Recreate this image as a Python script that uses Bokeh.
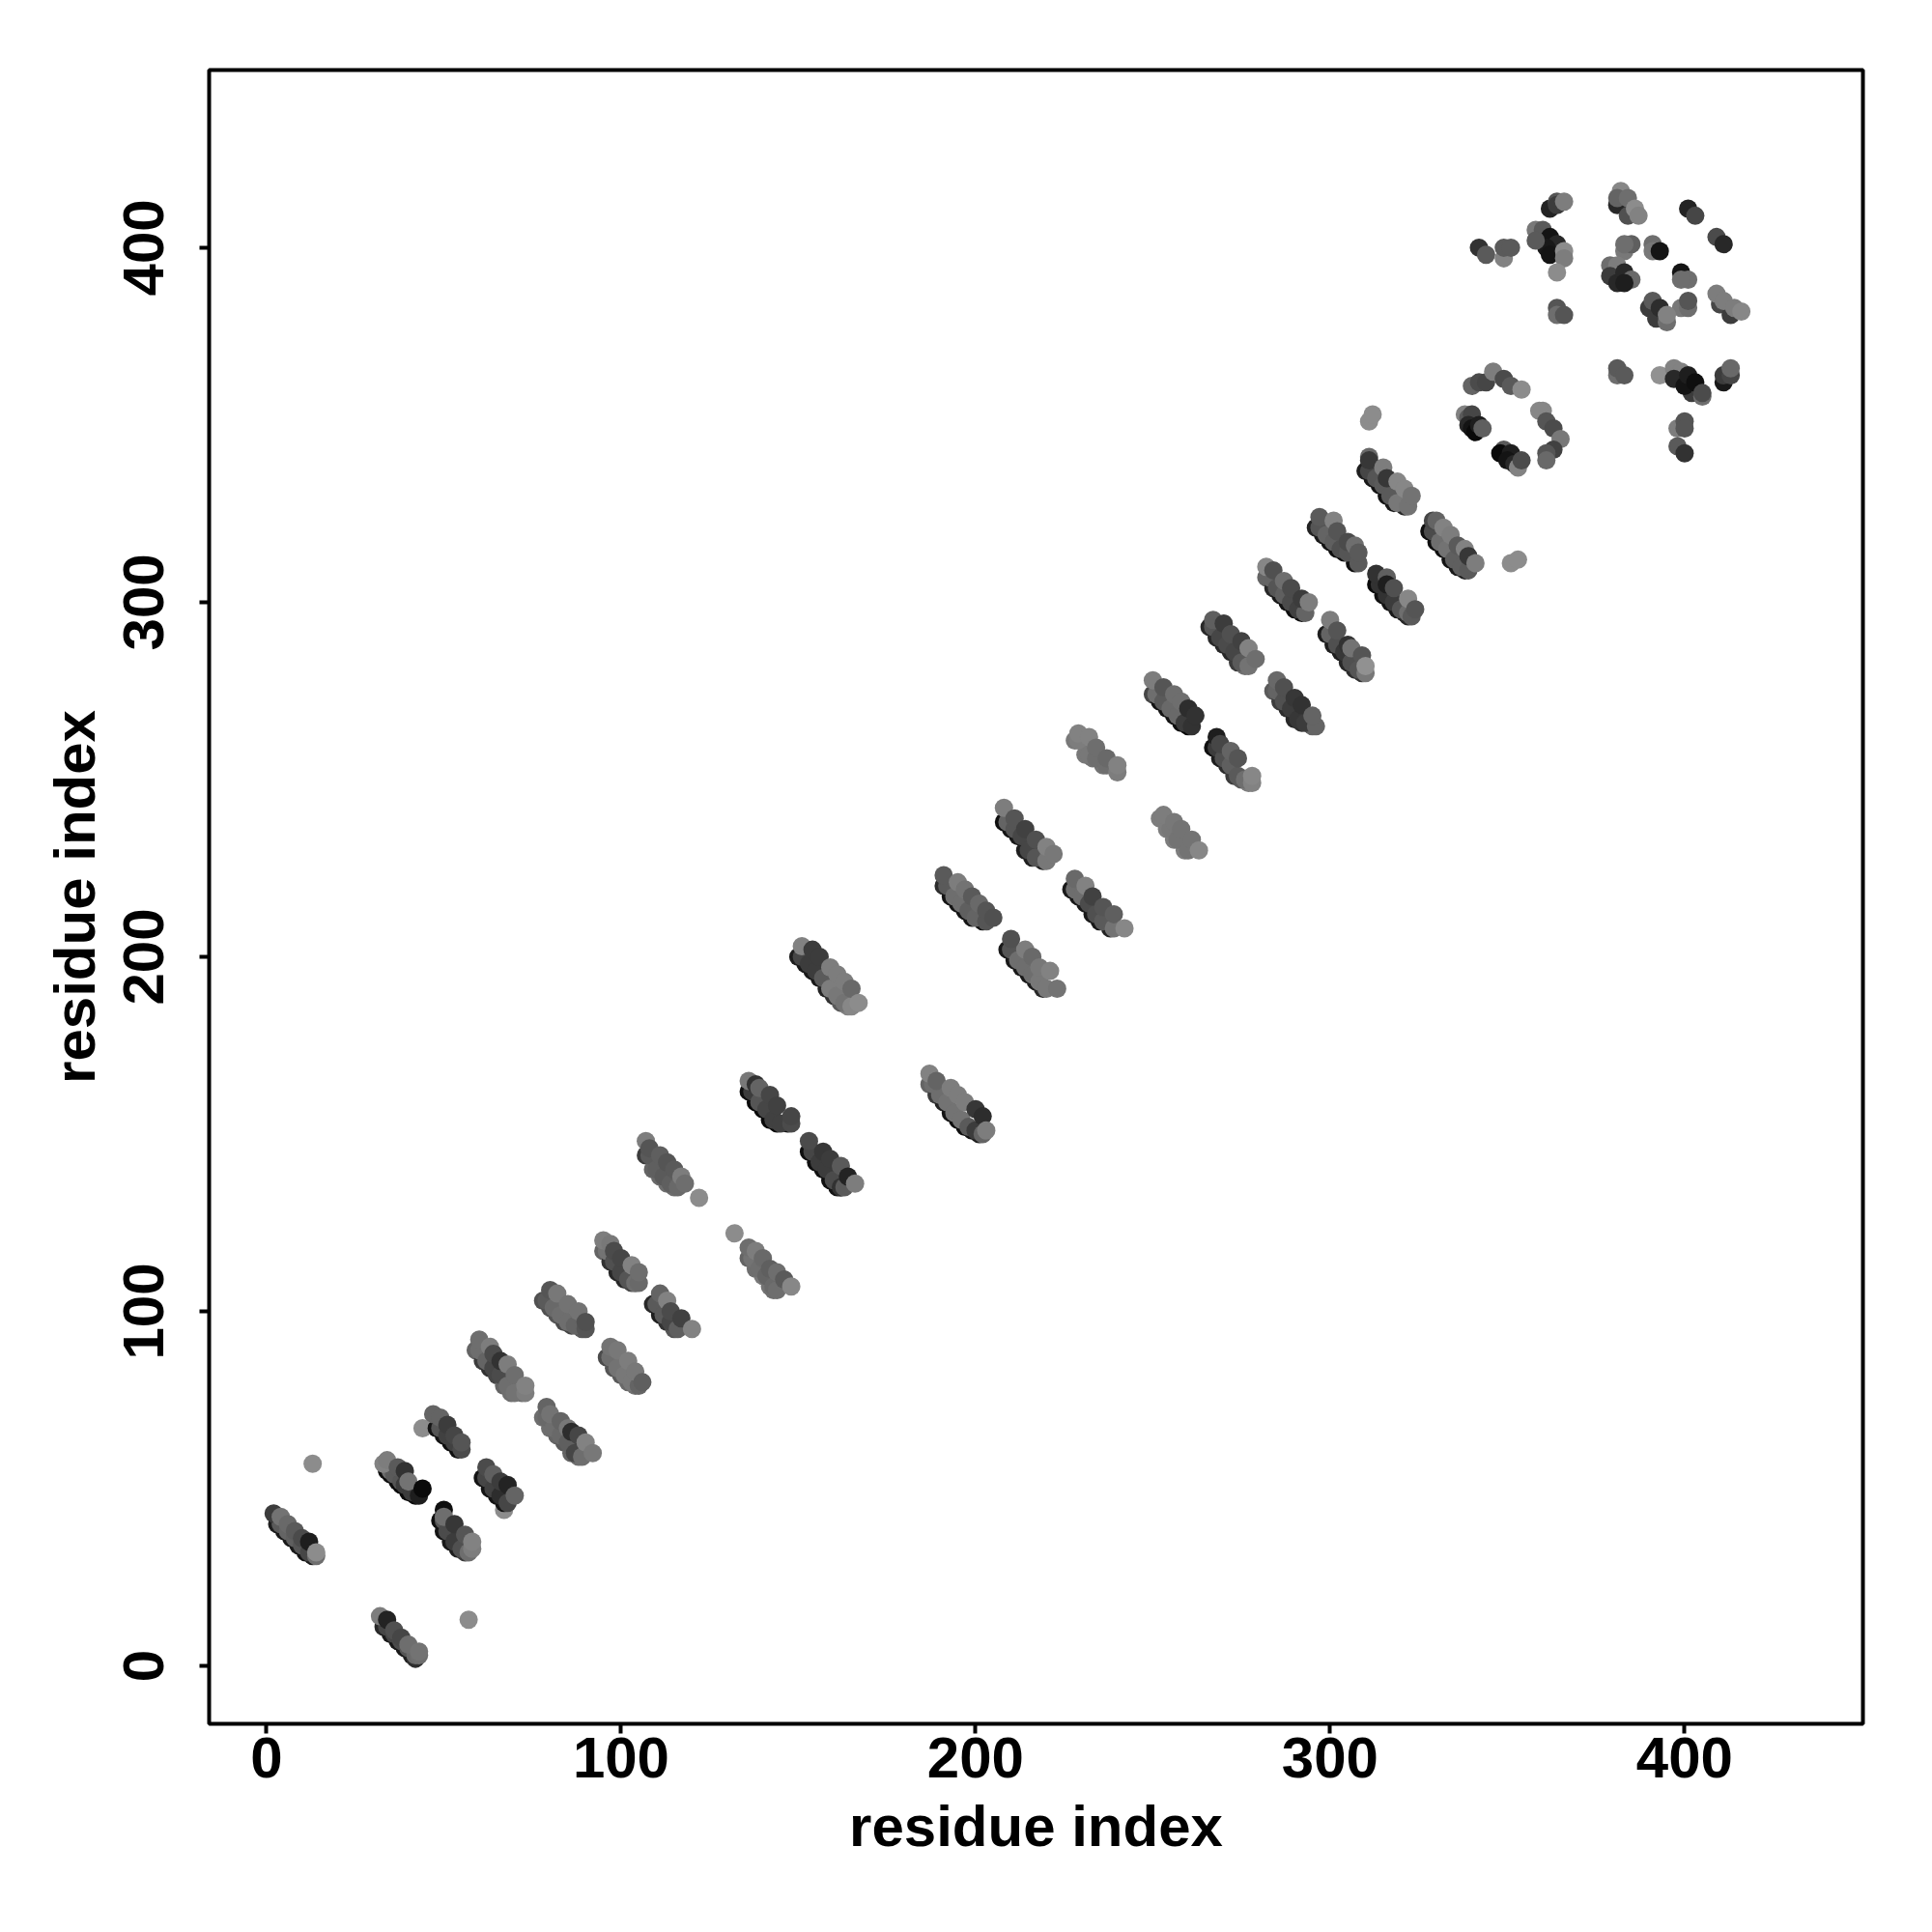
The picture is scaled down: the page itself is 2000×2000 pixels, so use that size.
from bokeh.plotting import figure
from bokeh.models import Range1d, FixedTicker, ColumnDataSource
from bokeh.embed import file_html
from bokeh.resources import INLINE
import numpy as np

tick_values = [0, 100, 200, 300, 400]
axis_title = "residue index"

# isolated contacts away from the long stripes
iso_x=[13,57,44,67,122,132,311,312,351,353]
iso_y=[57,13,67,44,132,122,351,353,311,312]
iso_g=[140,140,140,140,140,140,140,140,140,140]

a_x=[3,5,7,9,11,13, 4,6,8,10,12,14, 2,4,6,8,10,12,14]; a_y=[40,38,36,34,32,31, 40,38,36,34,32,31, 43,42,40,38,36,35,32]; a_g=[30,25,25,25,20,30, 90,100,95,85,70,110, 60,115,105,90,75,30,140]
b_x=[33,35,37,39,41,42, 34,36,38,40,42,43, 32,34,36,38,40,43]; b_y=[11,9,7,5,3,2, 11,9,7,5,3,3, 14,13,10,8,6,4]; b_g=[40,25,25,25,30,45, 70,70,75,85,105,110, 125,35,80,70,110,115]
c_x=[34,35,37,38,40,42, 35,36,38,39,41,43, 33,34,37,39,40,44]; c_y=[55,54,52,51,49,48, 55,54,52,51,49,48, 57,58,56,55,52,50]; c_g=[15,15,15,10,10,10, 110,90,85,60,60,30, 130,125,90,50,115,10]
d_x=[48,50,52,54, 49,51,53,55, 47,49,51,53,55]; d_y=[67,65,63,61, 67,65,63,61, 71,70,68,65,63]; d_g=[20,20,15,15, 85,65,65,75, 100,100,60,70,85]
e_x=[49,50,52,54,56,57, 50,51,53,55,57,58, 50,50,53,56,58]; e_y=[41,38,35,33,32,33, 41,38,35,33,32,33, 44,42,40,37,35]; e_g=[15,20,25,30,60,120, 85,75,60,80,110,125, 15,110,55,85,130]
f_x=[61,63,65,67, 62,64,66,68, 62,64,66,68,70]; f_y=[53,50,48,46, 53,50,48,46, 56,54,52,51,48]; f_g=[20,20,20,20, 70,65,45,70, 75,95,60,35,100]
g_x=[59,61,63,65,67,69,72, 60,62,64,66,68,70,73, 60,63,64,66,68,70,73]; g_y=[89,86,84,82,79,77,77, 89,86,84,82,79,77,77, 92,90,88,86,85,82,79]; g_g=[100,60,50,70,100,110,110, 110,100,70,75,110,115,125, 110,125,75,50,125,110,130]
h_x=[78,80,82,84,86,88, 79,81,83,85,87,89, 79,80,83,85,86,88,90,92]; h_y=[70,67,65,63,60,59, 70,67,65,63,60,59, 73,71,69,67,66,65,63,60]; h_g=[110,110,100,90,100,110, 105,110,105,95,70,110, 100,115,100,120,45,70,130,120]
j_x=[78,80,82,84,86,89, 79,81,83,85,87,90, 80,82,85,88,90]; j_y=[103,101,99,97,96,95, 103,101,99,97,96,95, 106,105,102,100,97]; j_g=[80,80,85,75,70,90, 90,105,110,110,100,85, 85,120,115,115,80]
i_x=[96,98,100,102,104, 97,99,101,103,105, 97,99,102,104,106]; i_y=[87,84,82,80,79, 87,84,82,80,79, 90,89,86,83,80]; i_g=[75,85,90,105,110, 110,115,120,120,100, 115,120,125,120,95]
k_x=[95,97,99,101,103,104, 96,98,100,102,104,105, 95,97,98,100,103,105]; k_y=[117,114,111,109,108,108, 117,114,111,109,108,108, 120,119,117,115,113,111]; k_g=[100,50,40,40,70,90, 115,80,70,85,110,105, 125,120,75,70,130,110]
l_x=[109,111,113,115, 110,112,114,116, 111,113,114,117,120]; l_y=[102,99,97,95, 102,99,97,95, 105,103,100,98,95]; l_g=[40,30,50,85, 90,90,70,95, 100,130,75,65,130]
m_x=[107,109,111,113,115, 108,110,112,114,116, 107,108,111,113,115,117,118]; m_y=[144,140,138,136,135, 144,140,138,136,135, 148,146,144,142,140,138,136]; m_g=[60,100,105,110,110, 90,95,90,95,105, 125,85,95,85,90,125,110]
n_x=[136,138,140,142,143, 137,139,141,143,144, 136,138,140,142,144,146,148]; n_y=[115,112,110,107,106, 115,112,110,107,106, 118,117,115,112,111,109,107]; n_g=[100,110,120,115,110, 115,110,100,105,110, 110,125,105,95,110,90,135]
o_x=[136,138,140,142,144,147, 137,139,141,143,145,148, 136,138,139,142,144,148]; o_y=[162,159,157,154,153,153, 162,159,157,154,153,153, 165,164,163,161,158,155]; o_g=[15,10,10,10,10,15, 60,85,70,65,65,75, 120,50,100,70,65,70]
p_x=[153,155,157,159,161,162, 154,156,158,160,162,163, 153,157,159,162,164,166]; p_y=[145,142,140,137,135,135, 145,142,140,137,135,135, 148,145,143,141,138,136]; p_g=[15,15,15,15,20,25, 70,60,60,75,50,90, 75,55,60,90,35,125]
q_x=[150,152,154,156,158,160,162,164, 151,153,155,157,159,161,163,165, 151,154,156,159,161,163,165,167]; q_y=[200,198,196,194,191,189,187,186, 200,198,196,194,191,189,187,186, 203,202,200,197,195,193,191,187]; q_g=[30,25,25,25,35,50,90,130, 70,60,60,90,125,120,115,135, 130,60,60,125,125,125,105,140]
r_x=[187,189,191,193,195,197,199,201, 188,190,192,194,196,198,200,202, 187,189,193,195,197,200,202,203]; r_y=[164,161,159,156,154,152,151,150, 164,161,159,156,154,152,151,150, 167,165,163,161,159,157,155,151]; r_g=[100,60,35,20,15,15,20,30, 110,110,115,115,115,90,60,100, 130,100,125,125,125,55,45,125]
s_x=[191,193,195,197,199,202, 192,194,196,198,200,203, 191,195,197,199,201,203,205]; s_y=[220,217,215,213,211,210, 220,217,215,213,211,210, 223,221,219,217,215,213,211]; s_g=[45,20,20,20,20,20, 90,110,110,95,100,85, 90,125,115,90,105,85,80]
t_x=[209,211,213,215,217,219, 210,212,214,216,218,220, 210,214,216,218,221,223]; t_y=[202,199,197,195,193,191, 202,199,197,195,193,191, 205,202,200,197,196,191]; t_g=[25,25,25,25,30,40, 85,110,110,110,120,120, 80,125,105,120,130,115]
u_x=[208,210,212,214,216,219, 209,211,213,215,217,220, 208,211,214,217,220,222]; u_y=[238,236,234,230,228,227, 238,236,234,230,228,227, 242,239,236,233,231,229]; u_g=[15,20,25,30,30,35, 100,85,70,70,85,120, 125,85,65,80,130,120]
v_x=[227,229,231,233,235,238, 228,230,232,234,236,239, 228,231,233,236,239,242]; v_y=[219,217,215,212,210,208, 219,217,215,212,210,208, 222,220,217,214,212,208]; v_g=[25,25,25,25,25,35, 110,110,75,80,90,115, 105,130,65,85,95,135]
w_x=[228,231,233,236, 229,232,234,237, 229,232,234,237,240,240]; w_y=[261,257,256,254, 261,257,256,254, 263,262,259,256,252,254]; w_g=[120,120,115,115, 125,120,110,110, 130,130,110,105,125,130]
aa_x=[252,254,256,259, 253,255,257,260, 253,256,258,261,263]; aa_y=[239,236,233,230, 239,236,233,230, 240,238,236,233,230]; aa_g=[125,125,125,125, 125,120,115,115, 125,120,115,115,135]
y_x=[250,252,254,256,258,260, 251,253,255,257,259,261, 250,253,256,258,260,262]; y_y=[274,272,270,268,266,265, 274,272,270,268,266,265, 278,276,274,272,270,268]; y_g=[70,20,20,20,15,10, 110,90,105,105,60,50, 125,85,110,110,45,50]
x_x=[267,269,271,273,275,277, 268,270,272,274,276,278, 268,269,272,274,278]; x_y=[259,256,254,251,250,249, 259,256,254,251,250,249, 262,260,258,256,251]; x_g=[15,30,45,60,90,125, 60,80,95,90,110,130, 30,70,100,85,135]
bb_x=[266,268,270,272,274,276, 267,269,271,273,275,277, 267,270,272,275,277,279]; bb_y=[293,290,288,286,283,282, 293,290,288,286,283,282, 295,294,291,289,287,284]; bb_g=[40,40,40,40,60,110, 85,70,75,70,90,115, 95,60,80,65,130,110]
cc_x=[284,286,288,290,292,295, 285,287,289,291,293,296, 285,287,290,292,295]; cc_y=[275,272,270,267,266,265, 275,272,270,267,266,265, 278,276,273,271,268]; cc_g=[90,60,45,40,50,100, 100,80,60,55,60,100, 105,80,55,50,100]
dd_x=[282,284,286,288,290,292, 283,285,287,289,291,293, 282,284,287,289,292,294]; dd_y=[307,304,302,300,298,297, 307,304,302,300,298,297, 310,309,306,304,301,300]; dd_g=[100,40,25,20,15,15, 100,85,95,75,65,100, 135,80,110,75,60,125]
ee_x=[299,301,303,305,307,309, 300,302,304,306,308,310, 300,302,305,306,309,310]; ee_y=[291,288,286,283,281,280, 291,288,286,283,281,280, 295,292,288,287,285,282]; ee_g=[30,30,30,40,45,50, 100,80,55,80,85,120, 125,85,50,115,85,145]
ff_x=[296,298,300,302,304,307, 297,299,301,303,305,308, 297,301,302,305,307,308]; ff_y=[321,319,317,315,314,311, 321,319,317,315,314,311, 324,323,320,317,316,314]; ff_g=[35,25,20,15,15,15, 85,100,95,80,85,90, 90,130,85,75,110,90]
gg_x=[313,315,317,319,321,322, 314,316,318,320,322,323, 313,316,316,318,322,324]; gg_y=[305,302,300,298,297,296, 305,302,300,298,297,296, 308,307,305,304,301,298]; gg_g=[10,15,20,25,35,40, 50,50,60,85,110,90, 50,95,30,80,135,85]
hh_x=[310,312,314,316,318,321, 311,313,315,317,319,322, 311,311,315,316,319,321,323]; hh_y=[337,335,333,330,328,327, 337,335,333,330,328,327, 341,340,338,335,334,332,330]; hh_g=[30,25,20,20,25,40, 70,85,90,90,120,115, 105,55,125,55,135,135,115]
ii_x=[328,330,332,334,336,338, 329,331,333,335,337,339, 329,330,332,334,336,338,339,341]; ii_y=[320,317,315,312,310,309, 320,317,315,312,310,309, 323,323,321,319,316,315,313,311]; ii_g=[15,15,15,20,25,30, 75,110,115,95,95,90, 70,100,130,125,90,130,55,125]

# loop near (350, 350)
loop_x=[338,339,340,339,340,341,342,343,340,342,344,346,349,351,354,349,348,351,350,352,353,354,360,359,361,363,365,363,361,361]
loop_y=[353,352,353,350,349,348,350,349,361,362,362,365,363,361,360,343,342,342,340,339,338,340,354,354,351,349,346,343,342,340]
loop_g=[130,90,70,40,20,10,30,95,100,75,70,125,75,90,140,90,10,30,20,40,130,75,135,135,85,75,120,65,85,105]

# upper right patch, left part
ul_x=[342,344,349,349,351,362,364,364,366,358,360,362,364,361,362,358,366,366,364,364,364,366]
ul_y=[400,398,397,400,400,411,413,412,413,405,405,403,401,400,398,402,399,397,393,383,381,381]
ul_g=[50,90,130,90,90,35,85,60,125,120,90,20,40,25,20,90,140,125,140,85,110,85]

# upper right patch, right part
ur_x=[381,384,382,381,384,386,387,401,403,409,411,383,385,383,391,391,393,399,401,399,379,381,379,381,383,385,383,
      399,401,401,390,392,391,393,395,395,410,413,409,411,414,416]
ur_y=[412,409,416,414,414,411,409,411,409,403,401,399,401,401,401,399,399,393,391,391,395,395,392,390,393,391,390,
      383,383,385,383,380,385,383,379,381,384,381,387,385,383,382]
ur_g=[40,80,135,100,110,140,130,35,70,75,40,120,95,110,110,120,20,20,110,110,110,125,60,40,40,105,30,
      120,110,85,60,60,90,45,110,130,70,60,125,125,125,135]

# lower right patch
lr_x=[381,381,383,393,397,399,402,397,400,401,403,405,405,411,411,413,413,398,400,400,398,400]
lr_y=[364,366,364,364,366,365,359,363,361,364,362,358,359,362,364,364,366,349,351,349,344,342]
lr_g=[110,90,90,145,130,130,60,40,20,30,15,110,75,25,60,70,105,125,85,85,90,50]

series = [(iso_x,iso_y,iso_g),(a_x,a_y,a_g),(b_x,b_y,b_g),(c_x,c_y,c_g),(d_x,d_y,d_g),(e_x,e_y,e_g),(f_x,f_y,f_g),
          (g_x,g_y,g_g),(h_x,h_y,h_g),(j_x,j_y,j_g),(i_x,i_y,i_g),(k_x,k_y,k_g),(l_x,l_y,l_g),
          (m_x,m_y,m_g),(n_x,n_y,n_g),(o_x,o_y,o_g),(p_x,p_y,p_g),(q_x,q_y,q_g),(r_x,r_y,r_g),
          (s_x,s_y,s_g),(t_x,t_y,t_g),(u_x,u_y,u_g),(v_x,v_y,v_g),(w_x,w_y,w_g),(aa_x,aa_y,aa_g),
          (y_x,y_y,y_g),(x_x,x_y,x_g),(bb_x,bb_y,bb_g),(cc_x,cc_y,cc_g),(dd_x,dd_y,dd_g),
          (ee_x,ee_y,ee_g),(ff_x,ff_y,ff_g),(gg_x,gg_y,gg_g),(hh_x,hh_y,hh_g),(ii_x,ii_y,ii_g),
          (loop_x,loop_y,loop_g),(ul_x,ul_y,ul_g),(ur_x,ur_y,ur_g),(lr_x,lr_y,lr_g)]

xs = np.concatenate([np.array(s[0], dtype=float) for s in series])
ys = np.concatenate([np.array(s[1], dtype=float) for s in series])
gs = np.concatenate([np.array(s[2], dtype=int) for s in series])
colors = ["#%02x%02x%02x" % (v, v, v) for v in gs]
src = ColumnDataSource(dict(x=xs, y=ys, c=colors))

p = figure(width=1992, height=1992, output_backend="svg", toolbar_location=None,
           x_range=Range1d(-16.2, 450.3), y_range=Range1d(-16.35, 450.1),
           min_border_left=216, min_border_right=64, min_border_top=72, min_border_bottom=208,
           frame_width=1712, frame_height=1712, background_fill_color="white")
p.grid.visible = False
p.outline_line_color = "black"
p.outline_line_width = 4
p.outline_line_alpha = 1

p.scatter("x", "y", source=src, size=19, marker="circle", fill_color="c", line_color=None)

for ax in (p.xaxis[0], p.yaxis[0]):
    ax.ticker = FixedTicker(ticks=tick_values)
    ax.minor_tick_line_color = None
    ax.axis_line_color = None
    ax.major_tick_line_color = "black"
    ax.major_tick_line_width = 4
    ax.major_tick_in = 0
    ax.major_tick_out = 10
    ax.major_label_text_font = "Liberation Sans"
    ax.major_label_text_font_style = "bold"
    ax.major_label_text_font_size = "60px"
    ax.major_label_text_color = "black"
    ax.axis_label = axis_title
    ax.axis_label_text_font = "Liberation Sans"
    ax.axis_label_text_font_style = "bold"
    ax.axis_label_text_font_size = "60px"
    ax.axis_label_text_color = "black"
p.xaxis[0].major_label_standoff = 4
p.xaxis[0].axis_label_standoff = 14
p.yaxis[0].major_label_orientation = "vertical"
p.yaxis[0].major_label_standoff = 37
p.yaxis[0].axis_label_standoff = 15

open("out.html", "w").write(file_html(p, INLINE))
